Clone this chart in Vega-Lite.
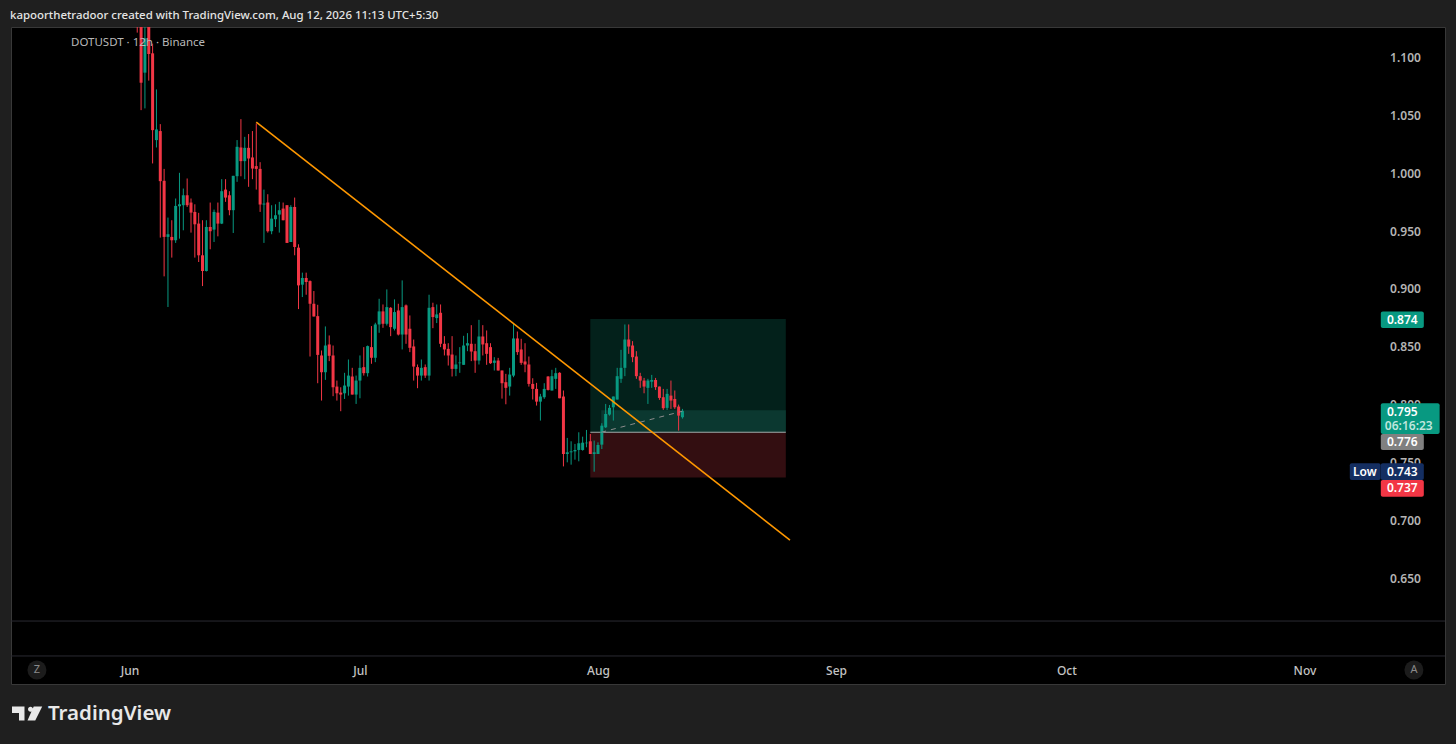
{
"$schema":"https://vega.github.io/schema/vega-lite/v6.json",
"autosize":"none",
"padding":{"left":11,"top":27,"right":11,"bottom":60},
"width":1434,
"height":657,
"background":"#1f1f1f",
"view":{"fill":"#000000","stroke":"#383838","strokeWidth":1},
"title":{"text":"kapoorthetradoor created with TradingView.com, Aug 12, 2026 11:13 UTC+5:30","anchor":"start","frame":"group","font":"Noto Sans","fontSize":11.45,"fontWeight":500,"color":"#e4e4e4","offset":6,"dx":-1},
"datasets":{
"zones":[
{"a":"2026-07-31T00:00Z","b":"2026-08-25T11:00Z","top":0.874,"bot":0.776,"k":"gain"},
{"a":"2026-08-01T10:00Z","b":"2026-08-25T11:00Z","top":0.795,"bot":0.776,"k":"fill"},
{"a":"2026-07-31T00:00Z","b":"2026-08-25T11:00Z","top":0.776,"bot":0.737,"k":"loss"}
],
"panes":[{"p":0.6128},{"p":0.5826}],
"entry":[{"a":"2026-07-31T00:00Z","b":"2026-08-25T11:00Z","p":0.776}],
"candles":[
{"t":"2026-06-02T00:00Z","o":1.15,"h":1.16,"l":1.1215,"c":1.14,"s":"down"},
{"t":"2026-06-02T12:00Z","o":1.135,"h":1.15,"l":1.0545,"c":1.0782,"s":"down"},
{"t":"2026-06-03T00:00Z","o":1.0869,"h":1.13,"l":1.056,"c":1.1166,"s":"up"},
{"t":"2026-06-03T12:00Z","o":1.13,"h":1.14,"l":1.08,"c":1.103,"s":"down"},
{"t":"2026-06-04T00:00Z","o":1.1036,"h":1.112,"l":1.0084,"c":1.0372,"s":"down"},
{"t":"2026-06-04T12:00Z","o":1.0286,"h":1.0724,"l":1.0222,"c":1.0378,"s":"up"},
{"t":"2026-06-05T00:00Z","o":1.0364,"h":1.0424,"l":0.9443,"c":0.9931,"s":"down"},
{"t":"2026-06-05T12:00Z","o":0.9934,"h":1.0037,"l":0.9108,"c":0.9449,"s":"down"},
{"t":"2026-06-06T00:00Z","o":0.9449,"h":0.9616,"l":0.8843,"c":0.9472,"s":"up"},
{"t":"2026-06-06T12:00Z","o":0.9449,"h":0.9593,"l":0.927,"c":0.942,"s":"down"},
{"t":"2026-06-07T00:00Z","o":0.942,"h":0.9781,"l":0.9397,"c":0.9717,"s":"up"},
{"t":"2026-06-07T12:00Z","o":0.9714,"h":1.0003,"l":0.9434,"c":0.9731,"s":"up"},
{"t":"2026-06-08T00:00Z","o":0.9723,"h":0.9867,"l":0.9506,"c":0.9809,"s":"up"},
{"t":"2026-06-08T12:00Z","o":0.9809,"h":0.9954,"l":0.9708,"c":0.9723,"s":"down"},
{"t":"2026-06-09T00:00Z","o":0.9746,"h":0.9781,"l":0.9486,"c":0.9659,"s":"down"},
{"t":"2026-06-09T12:00Z","o":0.9665,"h":0.9731,"l":0.927,"c":0.9558,"s":"down"},
{"t":"2026-06-10T00:00Z","o":0.9564,"h":0.9657,"l":0.9232,"c":0.929,"s":"down"},
{"t":"2026-06-10T12:00Z","o":0.929,"h":0.9593,"l":0.9024,"c":0.9154,"s":"down"},
{"t":"2026-06-11T00:00Z","o":0.9154,"h":0.9593,"l":0.915,"c":0.9535,"s":"up"},
{"t":"2026-06-11T12:00Z","o":0.9535,"h":0.9746,"l":0.9342,"c":0.9498,"s":"down"},
{"t":"2026-06-12T00:00Z","o":0.9512,"h":0.9685,"l":0.9405,"c":0.9665,"s":"up"},
{"t":"2026-06-12T12:00Z","o":0.9659,"h":0.9746,"l":0.9454,"c":0.9564,"s":"down"},
{"t":"2026-06-13T00:00Z","o":0.9564,"h":0.9948,"l":0.956,"c":0.9844,"s":"up"},
{"t":"2026-06-13T12:00Z","o":0.9858,"h":0.9948,"l":0.9752,"c":0.9789,"s":"down"},
{"t":"2026-06-14T00:00Z","o":0.9809,"h":0.9844,"l":0.9636,"c":0.968,"s":"down"},
{"t":"2026-06-14T12:00Z","o":0.968,"h":0.9977,"l":0.9483,"c":0.9977,"s":"up"},
{"t":"2026-06-15T00:00Z","o":0.9974,"h":1.0286,"l":0.9925,"c":1.0228,"s":"up"},
{"t":"2026-06-15T12:00Z","o":1.0222,"h":1.0467,"l":0.9973,"c":1.0104,"s":"down"},
{"t":"2026-06-16T00:00Z","o":1.0104,"h":1.0314,"l":0.9948,"c":1.0219,"s":"up"},
{"t":"2026-06-16T12:00Z","o":1.0219,"h":1.0338,"l":0.9882,"c":1.0127,"s":"down"},
{"t":"2026-06-17T00:00Z","o":1.0136,"h":1.0364,"l":0.9948,"c":1.004,"s":"down"},
{"t":"2026-06-17T12:00Z","o":1.0061,"h":1.043,"l":0.9858,"c":1.0037,"s":"down"},
{"t":"2026-06-18T00:00Z","o":1.0037,"h":1.0095,"l":0.9665,"c":0.9729,"s":"down"},
{"t":"2026-06-18T12:00Z","o":0.9729,"h":0.9858,"l":0.9397,"c":0.9737,"s":"up"},
{"t":"2026-06-19T00:00Z","o":0.9746,"h":0.9818,"l":0.9486,"c":0.9498,"s":"down"},
{"t":"2026-06-19T12:00Z","o":0.9498,"h":0.9723,"l":0.9472,"c":0.9607,"s":"up"},
{"t":"2026-06-20T00:00Z","o":0.9602,"h":0.9731,"l":0.9535,"c":0.9636,"s":"up"},
{"t":"2026-06-20T12:00Z","o":0.9642,"h":0.9752,"l":0.9486,"c":0.968,"s":"up"},
{"t":"2026-06-21T00:00Z","o":0.9694,"h":0.9746,"l":0.9593,"c":0.9593,"s":"down"},
{"t":"2026-06-21T12:00Z","o":0.9723,"h":0.9723,"l":0.9397,"c":0.9397,"s":"down"},
{"t":"2026-06-22T00:00Z","o":0.9405,"h":0.9723,"l":0.9405,"c":0.9708,"s":"up"},
{"t":"2026-06-22T12:00Z","o":0.9708,"h":0.9789,"l":0.929,"c":0.9362,"s":"down"},
{"t":"2026-06-23T00:00Z","o":0.9356,"h":0.9385,"l":0.8825,"c":0.903,"s":"down"},
{"t":"2026-06-23T12:00Z","o":0.9036,"h":0.914,"l":0.8929,"c":0.9094,"s":"up"},
{"t":"2026-06-24T00:00Z","o":0.9094,"h":0.914,"l":0.8949,"c":0.9059,"s":"down"},
{"t":"2026-06-24T12:00Z","o":0.9067,"h":0.9073,"l":0.8415,"c":0.8871,"s":"down"},
{"t":"2026-06-25T00:00Z","o":0.8871,"h":0.8981,"l":0.8761,"c":0.8761,"s":"down"},
{"t":"2026-06-25T12:00Z","o":0.8764,"h":0.8862,"l":0.8184,"c":0.8429,"s":"down"},
{"t":"2026-06-26T00:00Z","o":0.8424,"h":0.8467,"l":0.8034,"c":0.8279,"s":"down"},
{"t":"2026-06-26T12:00Z","o":0.8279,"h":0.8675,"l":0.8213,"c":0.851,"s":"up"},
{"t":"2026-06-27T00:00Z","o":0.8519,"h":0.8597,"l":0.8375,"c":0.8421,"s":"down"},
{"t":"2026-06-27T12:00Z","o":0.8424,"h":0.851,"l":0.8072,"c":0.8149,"s":"down"},
{"t":"2026-06-28T00:00Z","o":0.8155,"h":0.8207,"l":0.8034,"c":0.8097,"s":"down"},
{"t":"2026-06-28T12:00Z","o":0.8103,"h":0.8149,"l":0.7942,"c":0.8086,"s":"down"},
{"t":"2026-06-29T00:00Z","o":0.8097,"h":0.8274,"l":0.8048,"c":0.8164,"s":"up"},
{"t":"2026-06-29T12:00Z","o":0.8155,"h":0.8389,"l":0.8077,"c":0.825,"s":"up"},
{"t":"2026-06-30T00:00Z","o":0.8242,"h":0.8317,"l":0.8086,"c":0.8086,"s":"down"},
{"t":"2026-06-30T12:00Z","o":0.8086,"h":0.825,"l":0.8005,"c":0.8207,"s":"up"},
{"t":"2026-07-01T00:00Z","o":0.8207,"h":0.8424,"l":0.8054,"c":0.8317,"s":"up"},
{"t":"2026-07-01T12:00Z","o":0.8323,"h":0.8496,"l":0.825,"c":0.8271,"s":"down"},
{"t":"2026-07-02T00:00Z","o":0.8271,"h":0.851,"l":0.8242,"c":0.8505,"s":"up"},
{"t":"2026-07-02T12:00Z","o":0.8496,"h":0.8678,"l":0.8352,"c":0.8404,"s":"down"},
{"t":"2026-07-03T00:00Z","o":0.8404,"h":0.8707,"l":0.8366,"c":0.8692,"s":"up"},
{"t":"2026-07-03T12:00Z","o":0.8692,"h":0.8914,"l":0.862,"c":0.8805,"s":"up"},
{"t":"2026-07-04T00:00Z","o":0.8805,"h":0.8865,"l":0.8663,"c":0.8698,"s":"down"},
{"t":"2026-07-04T12:00Z","o":0.8698,"h":0.8995,"l":0.8683,"c":0.8842,"s":"up"},
{"t":"2026-07-05T00:00Z","o":0.8836,"h":0.8842,"l":0.8591,"c":0.8669,"s":"down"},
{"t":"2026-07-05T12:00Z","o":0.8655,"h":0.8909,"l":0.864,"c":0.8799,"s":"up"},
{"t":"2026-07-06T00:00Z","o":0.8813,"h":0.8871,"l":0.8597,"c":0.8605,"s":"down"},
{"t":"2026-07-06T12:00Z","o":0.8605,"h":0.9073,"l":0.8476,"c":0.8842,"s":"up"},
{"t":"2026-07-07T00:00Z","o":0.8857,"h":0.8865,"l":0.8525,"c":0.8605,"s":"down"},
{"t":"2026-07-07T12:00Z","o":0.8655,"h":0.877,"l":0.8453,"c":0.849,"s":"down"},
{"t":"2026-07-08T00:00Z","o":0.8502,"h":0.8562,"l":0.8207,"c":0.8328,"s":"down"},
{"t":"2026-07-08T12:00Z","o":0.8323,"h":0.8346,"l":0.8141,"c":0.825,"s":"down"},
{"t":"2026-07-09T00:00Z","o":0.825,"h":0.8389,"l":0.8207,"c":0.8317,"s":"up"},
{"t":"2026-07-09T12:00Z","o":0.8323,"h":0.8346,"l":0.823,"c":0.825,"s":"down"},
{"t":"2026-07-10T00:00Z","o":0.825,"h":0.8949,"l":0.8207,"c":0.8836,"s":"up"},
{"t":"2026-07-10T12:00Z","o":0.8842,"h":0.888,"l":0.866,"c":0.8756,"s":"down"},
{"t":"2026-07-11T00:00Z","o":0.8747,"h":0.8865,"l":0.8704,"c":0.8779,"s":"up"},
{"t":"2026-07-11T12:00Z","o":0.8793,"h":0.8865,"l":0.8496,"c":0.8525,"s":"down"},
{"t":"2026-07-12T00:00Z","o":0.8525,"h":0.8591,"l":0.8424,"c":0.8476,"s":"down"},
{"t":"2026-07-12T12:00Z","o":0.8481,"h":0.853,"l":0.8337,"c":0.8424,"s":"down"},
{"t":"2026-07-13T00:00Z","o":0.8432,"h":0.8591,"l":0.8242,"c":0.8308,"s":"down"},
{"t":"2026-07-13T12:00Z","o":0.8308,"h":0.8424,"l":0.8245,"c":0.8346,"s":"up"},
{"t":"2026-07-14T00:00Z","o":0.8357,"h":0.8496,"l":0.8274,"c":0.8363,"s":"up"},
{"t":"2026-07-14T12:00Z","o":0.8343,"h":0.8594,"l":0.8343,"c":0.851,"s":"up"},
{"t":"2026-07-15T00:00Z","o":0.851,"h":0.8617,"l":0.8461,"c":0.853,"s":"up"},
{"t":"2026-07-15T12:00Z","o":0.8525,"h":0.8686,"l":0.8375,"c":0.8458,"s":"down"},
{"t":"2026-07-16T00:00Z","o":0.8461,"h":0.8525,"l":0.8274,"c":0.838,"s":"down"},
{"t":"2026-07-16T12:00Z","o":0.838,"h":0.8732,"l":0.8346,"c":0.8588,"s":"up"},
{"t":"2026-07-17T00:00Z","o":0.8588,"h":0.8686,"l":0.8424,"c":0.8519,"s":"down"},
{"t":"2026-07-17T12:00Z","o":0.853,"h":0.864,"l":0.8343,"c":0.8438,"s":"down"},
{"t":"2026-07-18T00:00Z","o":0.8496,"h":0.853,"l":0.8351,"c":0.8357,"s":"down"},
{"t":"2026-07-18T12:00Z","o":0.836,"h":0.8409,"l":0.8294,"c":0.838,"s":"up"},
{"t":"2026-07-19T00:00Z","o":0.838,"h":0.8403,"l":0.8294,"c":0.8294,"s":"down"},
{"t":"2026-07-19T12:00Z","o":0.8294,"h":0.8294,"l":0.8051,"c":0.8184,"s":"down"},
{"t":"2026-07-20T00:00Z","o":0.8193,"h":0.8265,"l":0.8002,"c":0.8144,"s":"down"},
{"t":"2026-07-20T12:00Z","o":0.8155,"h":0.8317,"l":0.8077,"c":0.8259,"s":"up"},
{"t":"2026-07-21T00:00Z","o":0.825,"h":0.8698,"l":0.8236,"c":0.8571,"s":"up"},
{"t":"2026-07-21T12:00Z","o":0.8571,"h":0.8631,"l":0.8429,"c":0.8453,"s":"down"},
{"t":"2026-07-22T00:00Z","o":0.8476,"h":0.8568,"l":0.8343,"c":0.836,"s":"down"},
{"t":"2026-07-22T12:00Z","o":0.8372,"h":0.853,"l":0.8279,"c":0.8346,"s":"down"},
{"t":"2026-07-23T00:00Z","o":0.8346,"h":0.8415,"l":0.8155,"c":0.8178,"s":"down"},
{"t":"2026-07-23T12:00Z","o":0.8178,"h":0.8227,"l":0.8043,"c":0.8135,"s":"down"},
{"t":"2026-07-24T00:00Z","o":0.8135,"h":0.8187,"l":0.7991,"c":0.8025,"s":"down"},
{"t":"2026-07-24T12:00Z","o":0.8025,"h":0.8092,"l":0.7861,"c":0.8069,"s":"up"},
{"t":"2026-07-25T00:00Z","o":0.8063,"h":0.8184,"l":0.8049,"c":0.8135,"s":"up"},
{"t":"2026-07-25T12:00Z","o":0.8242,"h":0.8245,"l":0.8121,"c":0.8126,"s":"down"},
{"t":"2026-07-26T00:00Z","o":0.8121,"h":0.83,"l":0.8121,"c":0.8245,"s":"up"},
{"t":"2026-07-26T12:00Z","o":0.8222,"h":0.8317,"l":0.8135,"c":0.8271,"s":"up"},
{"t":"2026-07-27T00:00Z","o":0.8274,"h":0.8279,"l":0.8054,"c":0.8054,"s":"down"},
{"t":"2026-07-27T12:00Z","o":0.8069,"h":0.8121,"l":0.7465,"c":0.7572,"s":"down"},
{"t":"2026-07-28T00:00Z","o":0.7572,"h":0.7711,"l":0.75,"c":0.7587,"s":"up"},
{"t":"2026-07-28T12:00Z","o":0.7587,"h":0.7682,"l":0.748,"c":0.7595,"s":"up"},
{"t":"2026-07-29T00:00Z","o":0.7595,"h":0.7659,"l":0.7523,"c":0.7607,"s":"up"},
{"t":"2026-07-29T12:00Z","o":0.7607,"h":0.776,"l":0.7509,"c":0.7665,"s":"up"},
{"t":"2026-07-30T00:00Z","o":0.7607,"h":0.7722,"l":0.7601,"c":0.767,"s":"up"},
{"t":"2026-07-30T12:00Z","o":0.7665,"h":0.778,"l":0.763,"c":0.767,"s":"up"},
{"t":"2026-07-31T00:00Z","o":0.7682,"h":0.7745,"l":0.7572,"c":0.7572,"s":"down"},
{"t":"2026-07-31T12:00Z","o":0.7572,"h":0.7688,"l":0.7419,"c":0.7587,"s":"up"},
{"t":"2026-08-01T00:00Z","o":0.7572,"h":0.7673,"l":0.7572,"c":0.765,"s":"up"},
{"t":"2026-08-01T12:00Z","o":0.7653,"h":0.7838,"l":0.7615,"c":0.7817,"s":"up"},
{"t":"2026-08-02T00:00Z","o":0.7803,"h":0.8005,"l":0.7797,"c":0.7918,"s":"up"},
{"t":"2026-08-02T12:00Z","o":0.7913,"h":0.7996,"l":0.7904,"c":0.7971,"s":"up"},
{"t":"2026-08-03T00:00Z","o":0.7976,"h":0.8069,"l":0.7861,"c":0.8069,"s":"up"},
{"t":"2026-08-03T12:00Z","o":0.8043,"h":0.8317,"l":0.8043,"c":0.8245,"s":"up"},
{"t":"2026-08-04T00:00Z","o":0.8222,"h":0.8473,"l":0.8187,"c":0.8317,"s":"up"},
{"t":"2026-08-04T12:00Z","o":0.8317,"h":0.8692,"l":0.8245,"c":0.8562,"s":"up"},
{"t":"2026-08-05T00:00Z","o":0.8562,"h":0.8692,"l":0.8438,"c":0.8501,"s":"down"},
{"t":"2026-08-05T12:00Z","o":0.851,"h":0.8548,"l":0.8366,"c":0.8409,"s":"down"},
{"t":"2026-08-06T00:00Z","o":0.8415,"h":0.8461,"l":0.8222,"c":0.8245,"s":"down"},
{"t":"2026-08-06T12:00Z","o":0.8245,"h":0.8274,"l":0.8144,"c":0.8207,"s":"down"},
{"t":"2026-08-07T00:00Z","o":0.8207,"h":0.823,"l":0.8097,"c":0.8155,"s":"down"},
{"t":"2026-08-07T12:00Z","o":0.8144,"h":0.8222,"l":0.8005,"c":0.8207,"s":"up"},
{"t":"2026-08-08T00:00Z","o":0.8197,"h":0.8256,"l":0.8144,"c":0.8212,"s":"up"},
{"t":"2026-08-08T12:00Z","o":0.8212,"h":0.823,"l":0.8126,"c":0.815,"s":"down"},
{"t":"2026-08-09T00:00Z","o":0.8155,"h":0.8155,"l":0.804,"c":0.8057,"s":"down"},
{"t":"2026-08-09T12:00Z","o":0.8063,"h":0.8135,"l":0.7953,"c":0.7968,"s":"down"},
{"t":"2026-08-10T00:00Z","o":0.7971,"h":0.8135,"l":0.7953,"c":0.8092,"s":"up"},
{"t":"2026-08-10T12:00Z","o":0.8077,"h":0.8207,"l":0.7962,"c":0.8034,"s":"down"},
{"t":"2026-08-11T00:00Z","o":0.8048,"h":0.8121,"l":0.7962,"c":0.7976,"s":"down"},
{"t":"2026-08-11T12:00Z","o":0.7982,"h":0.7999,"l":0.7774,"c":0.7904,"s":"down"},
{"t":"2026-08-12T00:00Z","o":0.789,"h":0.7962,"l":0.7878,"c":0.7945,"s":"up"}
],
"dash":[{"t":"2026-08-01T10:00Z","p":0.776},{"t":"2026-08-12T00:00Z","p":0.7942}],
"trend":[{"t":"2026-06-17T12:00Z","p":1.0442},{"t":"2026-08-26T00:00Z","p":0.6828}],
"tags":[
{"a":"2026-11-10T22:35Z","b":"2026-11-16T13:00Z","top":0.8804,"bot":0.8662,"k":"gtag"},
{"a":"2026-11-10T22:35Z","b":"2026-11-18T14:25Z","top":0.801,"bot":0.7745,"k":"gtag"},
{"a":"2026-11-10T22:35Z","b":"2026-11-16T13:00Z","top":0.7745,"bot":0.7607,"k":"gray"},
{"a":"2026-11-06T21:40Z","b":"2026-11-10T22:00Z","top":0.7492,"bot":0.7348,"k":"navy"},
{"a":"2026-11-10T22:35Z","b":"2026-11-16T13:00Z","top":0.7492,"bot":0.7348,"k":"navy"},
{"a":"2026-11-10T22:35Z","b":"2026-11-16T13:00Z","top":0.7348,"bot":0.7203,"k":"rtag"}
],
"tagText":[
{"t":"2026-11-13T17:45Z","p":0.8732,"txt":"0.874","k":"ink"},
{"t":"2026-11-13T17:45Z","p":0.7938,"txt":"0.795","k":"ink"},
{"t":"2026-11-14T14:00Z","p":0.7814,"txt":"06:16:23","k":"timer"},
{"t":"2026-11-13T17:45Z","p":0.7676,"txt":"0.776","k":"ink"},
{"t":"2026-11-13T17:45Z","p":0.7416,"txt":"0.743","k":"ink"},
{"t":"2026-11-08T20:40Z","p":0.7416,"txt":"Low","k":"ink"},
{"t":"2026-11-13T17:45Z","p":0.7278,"txt":"0.737","k":"ink"}
],
"symbol":[{"t":"2026-05-24T09:00Z","p":1.1125,"txt":"DOTUSDT · 12h · Binance"}],
"buttons":[{"t":"2026-05-19T22:33Z","p":0.5705,"txt":"Z"},{"t":"2026-11-15T06:00Z","p":0.5705,"txt":"A"}],
"logo":[{"t":"2026-05-18T17:00Z","p":0.5329}],
"brand":[{"t":"2026-05-21T09:00Z","p":0.5325,"txt":"TradingView"}]
},
"layer":[
{"data":{"name":"zones"},"mark":{"type":"rect"},"encoding":{
"x":{"field":"a","type":"temporal","title":null,"scale":{"type":"utc","domain":["2026-05-16T13:26:00Z","2026-11-19T07:12:00Z"],"nice":false,"padding":0},"axis":{"orient":"bottom","offset":-14,"title":null,"grid":false,"domain":false,"ticks":false,"labelPadding":0,"labelBaseline":"middle","labelFont":"Noto Sans","labelFontSize":12,"labelFontWeight":500,"labelColor":"#c4c4c4","format":"%b","labelOverlap":false,"labelFlush":false,"values":["2026-06-01T00:00:00Z","2026-07-01T00:00:00Z","2026-08-01T00:00:00Z","2026-09-01T00:00:00Z","2026-10-01T00:00:00Z","2026-11-01T00:00:00Z"]}},
"x2":{"field":"b"},
"y":{"field":"top","type":"quantitative","title":null,"scale":{"domain":[0.55837,1.12637],"nice":false,"zero":false},"axis":{"orient":"right","offset":-40,"title":null,"grid":false,"domain":false,"ticks":false,"labelPadding":0,"labelAlign":"center","labelBaseline":"middle","labelFont":"Noto Sans","labelFontSize":12,"labelFontWeight":600,"labelColor":"#b4b4b4","format":".3f","labelOverlap":false,"labelFlush":false,"values":[0.65,0.7,0.75,0.8,0.85,0.9,0.95,1.0,1.05,1.1]}},
"y2":{"field":"bot"},
"color":{"field":"k","type":"nominal","legend":null,"scale":{"domain":["up","down","gain","fill","loss","gtag","gray","navy","rtag","ink","timer"],"range":["#089981","#f23645","#03211b","#0b3830","#330e11","#089981","#808080","#142e61","#f23645","#ffffff","#bfe6dd"]}}
}},
{"data":{"name":"panes"},"mark":{"type":"rule","color":"#2a2a32","strokeWidth":1},"encoding":{"y":{"field":"p","type":"quantitative","title":null}}},
{"data":{"name":"entry"},"mark":{"type":"rule","color":"#a2adab","strokeWidth":1.2},"encoding":{"x":{"field":"a","type":"temporal","title":null},"x2":{"field":"b"},"y":{"field":"p","type":"quantitative","title":null}}},
{"data":{"name":"candles"},"mark":{"type":"rule","strokeWidth":1,"clip":true},"encoding":{"x":{"field":"t","type":"temporal","title":null},"y":{"field":"l","type":"quantitative","title":null},"y2":{"field":"h"},"color":{"field":"s","type":"nominal","legend":null}}},
{"data":{"name":"candles"},"mark":{"type":"bar","width":3,"clip":true},"encoding":{"x":{"field":"t","type":"temporal","title":null},"y":{"field":"o","type":"quantitative","title":null},"y2":{"field":"c"},"color":{"field":"s","type":"nominal","legend":null}}},
{"data":{"name":"dash"},"mark":{"type":"line","color":"#8c8c8c","strokeWidth":1,"strokeDash":[5,5]},"encoding":{"x":{"field":"t","type":"temporal","title":null},"y":{"field":"p","type":"quantitative","title":null}}},
{"data":{"name":"trend"},"mark":{"type":"line","color":"#ff9800","strokeWidth":1.6,"clip":true},"encoding":{"x":{"field":"t","type":"temporal","title":null},"y":{"field":"p","type":"quantitative","title":null}}},
{"data":{"name":"tags"},"mark":{"type":"rect","cornerRadius":2},"encoding":{"x":{"field":"a","type":"temporal","title":null},"x2":{"field":"b"},"y":{"field":"top","type":"quantitative","title":null},"y2":{"field":"bot"},"color":{"field":"k","type":"nominal","legend":null}}},
{"data":{"name":"tagText"},"mark":{"type":"text","font":"Noto Sans","fontSize":12,"fontWeight":600,"baseline":"middle"},"encoding":{"x":{"field":"t","type":"temporal","title":null},"y":{"field":"p","type":"quantitative","title":null},"text":{"field":"txt"},"color":{"field":"k","type":"nominal","legend":null}}},
{"data":{"name":"symbol"},"mark":{"type":"text","font":"Noto Sans","fontSize":11.5,"align":"left","baseline":"middle","color":"#b8b8b8"},"encoding":{"x":{"field":"t","type":"temporal","title":null},"y":{"field":"p","type":"quantitative","title":null},"text":{"field":"txt"}}},
{"data":{"name":"buttons"},"mark":{"type":"point","shape":"circle","filled":true,"size":360,"color":"#1c1c1c","opacity":1},"encoding":{"x":{"field":"t","type":"temporal","title":null},"y":{"field":"p","type":"quantitative","title":null}}},
{"data":{"name":"buttons"},"mark":{"type":"text","font":"Noto Sans","fontSize":11,"baseline":"middle","color":"#8a8a8a"},"encoding":{"x":{"field":"t","type":"temporal","title":null},"y":{"field":"p","type":"quantitative","title":null},"text":{"field":"txt"}}},
{"data":{"name":"logo"},"mark":{"type":"point","filled":true,"clip":false,"size":961,"opacity":1,"color":"#e8e8e8","shape":"M-1 -0.452 L-0.194 -0.452 L-0.194 0.452 L-0.548 0.452 L-0.548 -0.032 L-1 -0.032 Z M0.034 -0.277 A0.16 0.16 0 1 1 0.354 -0.277 A0.16 0.16 0 1 1 0.034 -0.277 Z M0.4 -0.452 L0.95 -0.452 L0.5 0.452 L0 0.452 Z"},"encoding":{"x":{"field":"t","type":"temporal","title":null},"y":{"field":"p","type":"quantitative","title":null}}},
{"data":{"name":"brand"},"mark":{"type":"text","clip":false,"font":"Noto Sans","fontSize":20.5,"fontWeight":600,"align":"left","baseline":"middle","color":"#e8e8e8"},"encoding":{"x":{"field":"t","type":"temporal","title":null},"y":{"field":"p","type":"quantitative","title":null},"text":{"field":"txt"}}}
]
}
